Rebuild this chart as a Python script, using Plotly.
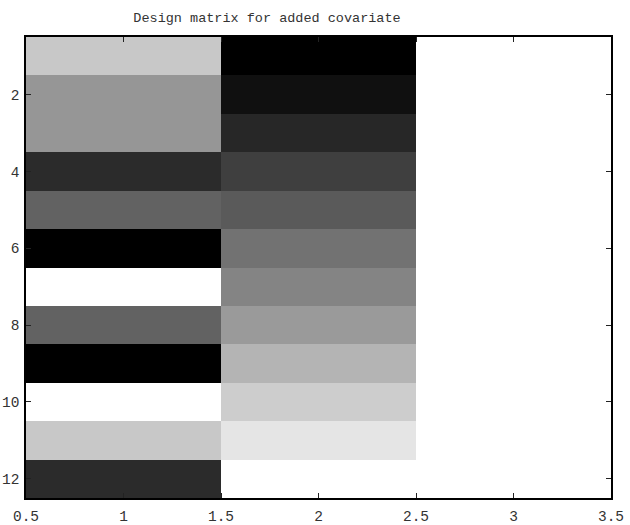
import plotly.graph_objects as go

# Gray intensity (0 = black, 255 = white) per row, per design-matrix column
rows = list(range(1, 13))
cols = [1, 2, 3]
col1 = [200, 150, 150, 43, 98, 0, 255, 98, 0, 255, 200, 43]
col2 = [0, 16, 39, 63, 90, 114, 132, 154, 180, 205, 229, 255]
col3 = [255] * 12

z = [[a / 255, b / 255, c / 255] for a, b, c in zip(col1, col2, col3)]

x_ticks = [0.5, 1, 1.5, 2, 2.5, 3, 3.5]
x_ticklabels = ["0.5", "1", "1.5", "2", "2.5", "3", "3.5"]
y_ticks = [2, 4, 6, 8, 10, 12]

fig = go.Figure(go.Heatmap(
    x=cols, y=rows, z=z,
    colorscale=[[0, "rgb(0,0,0)"], [1, "rgb(255,255,255)"]],
    zmin=0, zmax=1, showscale=False, hoverinfo="skip",
))

fam = "Liberation Mono, DejaVu Sans Mono, monospace"
title_font = dict(family=fam, size=13.5, color="#333333")
tick_font = dict(family=fam, size=14.5, color="#333333")
fig.update_layout(
    width=630, height=525,
    margin=dict(l=26, r=19, t=37, b=27, autoexpand=False),
    paper_bgcolor="white", plot_bgcolor="white",
    title=dict(text="Design matrix for added covariate", x=267 / 630, xanchor="center",
               xref="container", y=1 - 17 / 525, yanchor="middle", yref="container",
               font=title_font, automargin=False),
    font=tick_font,
)
fig.update_xaxes(range=[0.5, 3.5], tickvals=x_ticks, ticktext=x_ticklabels,
                 ticks="inside", ticklen=5, tickcolor="#222222", mirror="ticks",
                 showline=True, linecolor="black", linewidth=1.5, showgrid=False,
                 zeroline=False, tickfont=tick_font, automargin=False,
                 ticklabelstandoff=4)
fig.update_yaxes(range=[12.5, 0.5], tickvals=y_ticks,
                 ticks="inside", ticklen=5, tickcolor="#222222", mirror="ticks",
                 showline=True, linecolor="black", linewidth=1.5, showgrid=False,
                 zeroline=False, tickfont=tick_font, automargin=False,
                 ticklabelstandoff=2)

fig.write_html("out.html", config={"displayModeBar": False},
               post_script="document.body.style.margin='0';document.body.style.overflow='hidden';")
